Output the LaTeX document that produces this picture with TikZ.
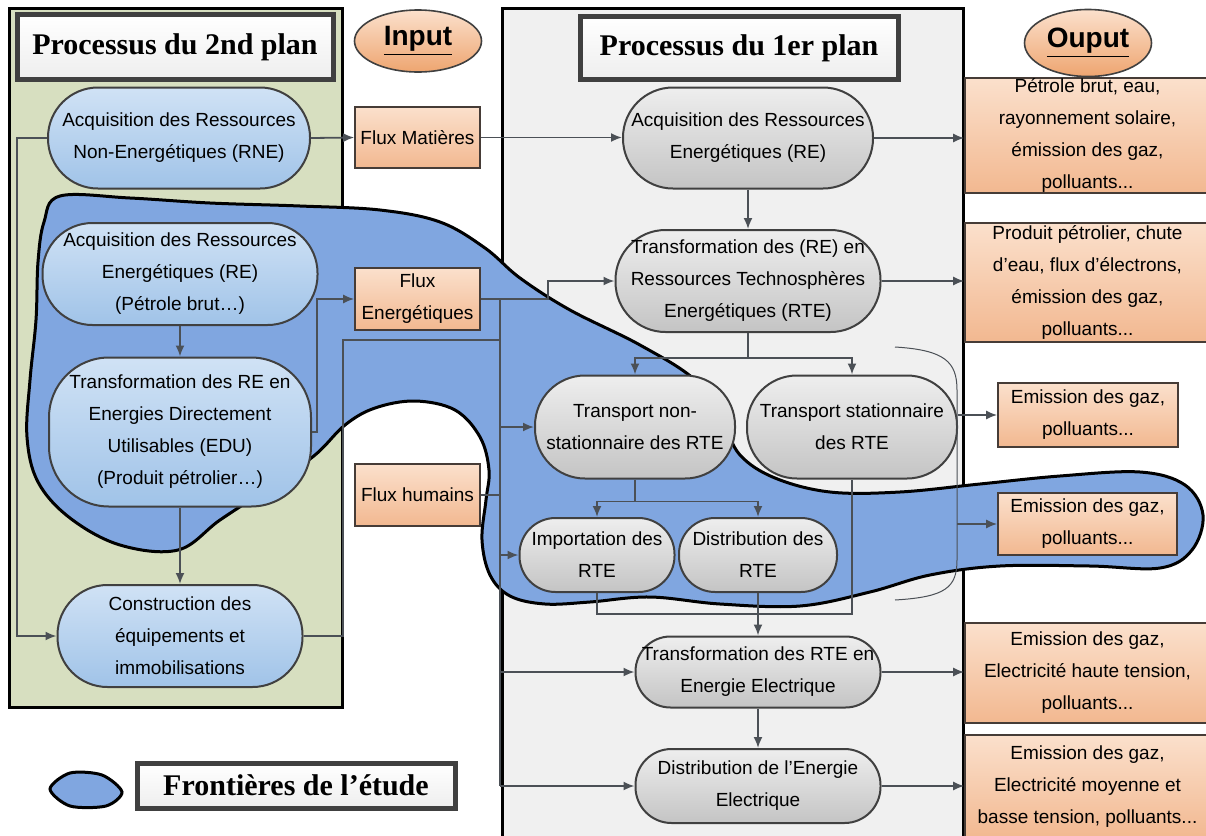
\documentclass[tikz,border=0pt]{standalone}
\usepackage{fontspec}
\setmainfont{Liberation Sans}
\newfontfamily\titlefont{Liberation Serif}
\usepackage{tikz}
\usetikzlibrary{shapes,arrows,arrows.meta}
\usepackage{color}
\definecolor{vert}{RGB}{215,223,192}
\definecolor{gris}{RGB}{240,240,240}
\definecolor{frontiere}{RGB}{128,166,224}
\definecolor{bleuh}{RGB}{208,226,245}
\definecolor{bleub}{RGB}{160,195,232}
\definecolor{grish}{RGB}{238,238,238}
\definecolor{grisb}{RGB}{196,196,196}
\definecolor{orangeh}{RGB}{251,224,204}
\definecolor{orangeb}{RGB}{242,184,144}
\definecolor{orangef}{RGB}{238,165,112}
\definecolor{brun}{RGB}{70,60,55}
\definecolor{trait}{RGB}{75,80,86}
\definecolor{bord}{RGB}{64,64,64}

\begin{document}
\begin{tikzpicture}[x=0.5pt, y=-0.5pt]
    % Define styles
    \tikzstyle{second} = [rectangle, rounded corners=25pt, draw=bord, line width=1pt, top color=bleuh, bottom color=bleub, align=center, inner sep=0pt, font=\fontsize{9.5}{16}\selectfont]
    \tikzstyle{first} = [second, top color=grish, bottom color=grisb]
    \tikzstyle{flux} = [rectangle, draw=brun, line width=0.8pt, top color=orangeh, bottom color=orangeb, align=center, inner sep=0pt, font=\fontsize{9.5}{16}\selectfont]
    \tikzstyle{titre} = [rectangle, draw=bord, line width=2.5pt, top color=white, bottom color=grish, font=\titlefont\bfseries\fontsize{15}{18}\selectfont]
    \tikzstyle{io} = [ellipse, draw=bord, line width=0.8pt, top color=orangeh, bottom color=orangef, inner sep=0pt, font=\bfseries\fontsize{14}{16}\selectfont]
    \tikzstyle{frontier} = [draw=black, line width=1.5pt, fill=frontiere]
    \tikzstyle{conn} = [draw=trait, line width=0.9pt]
    \tikzstyle{line} = [conn, -{Latex[length=5.5pt, width=4.5pt]}]

    \useasboundingbox (0,0) rectangle (1206,836);

    % Panels
    \draw [fill=vert, line width=1.5pt] (9,8) rectangle (342,707);
    \draw [fill=gris, line width=1.5pt] (502,8) rectangle (963,845);

    % Study boundary
    \draw [frontier] plot [smooth cycle, tension=0.6] coordinates {
        (60,196) (130,198) (210,203) (300,206) (380,210) (440,222) (485,248)
        (520,278) (570,310) (640,345) (695,380) (722,420) (740,455) (775,478)
        (830,492) (900,492) (980,484) (1060,476) (1140,472) (1185,485) (1203,515)
        (1192,550) (1160,568) (1090,566) (1000,566) (930,575) (870,592) (800,606)
        (720,604) (650,597) (590,602) (545,604) (510,596) (490,575) (482,540)
        (486,500) (489,470) (480,437) (455,410) (415,401) (375,408) (345,425)
        (315,455) (270,487) (220,520) (178,550) (120,545) (70,518) (38,482)
        (27,437) (30,380) (36,320) (38,262) (44,222)};

    % Titles
    \node [titre, minimum width=158pt, minimum height=32.5pt] (plan2) at (175,47) {Processus du 2nd plan};
    \node [titre, minimum width=159pt, minimum height=31.5pt] (plan1) at (739,48) {Processus du 1er plan};
    \node [io, minimum width=63.5pt, minimum height=31pt] (input) at (418,41) {\underline{Input}};
    \node [io, minimum width=63.5pt, minimum height=33.5pt] (output) at (1088,43) {\underline{Ouput}};

    % Second plan
    \node [second, minimum width=131pt, minimum height=50.5pt] (rne) at (179,138) {Acquisition des Ressources\\Non-Energétiques (RNE)};
    \node [second, minimum width=137.5pt, minimum height=51pt] (reL) at (180,274) {Acquisition des Ressources\\Energétiques (RE)\\(Pétrole brut…)};
    \node [second, rounded corners=30pt, minimum width=131pt, minimum height=74.5pt] (edu) at (180,432) {Transformation des RE en\\Energies Directement\\Utilisables (EDU)\\(Produit pétrolier…)};
    \node [second, minimum width=122.5pt, minimum height=51pt] (con) at (180,636) {Construction des\\équipements et\\immobilisations};

    % Input
    \node [flux, minimum width=62.5pt, minimum height=30.5pt] (fm) at (417.5,137.5) {Flux Matières};
    \node [flux, minimum width=62.5pt, minimum height=31pt] (fe) at (417.5,299) {Flux\\Energétiques};
    \node [flux, minimum width=62.5pt, minimum height=31pt] (fh) at (417.5,495) {Flux humains};

    % First plan
    \node [first, minimum width=125pt, minimum height=50.5pt] (reR) at (748,138) {Acquisition des Ressources\\Energétiques (RE)};
    \node [first, minimum width=132.5pt, minimum height=51pt] (rte) at (748,281) {Transformation des (RE) en\\Ressources Technosphères\\Energétiques (RTE)};
    \node [first, minimum width=100pt, minimum height=51.5pt] (tnon) at (635,427) {Transport non-\\stationnaire des RTE};
    \node [first, minimum width=105pt, minimum height=51.5pt] (tstat) at (852,427) {Transport stationnaire\\des RTE};
    \node [first, rounded corners=18pt, minimum width=77.5pt, minimum height=37pt] (imp) at (597,555) {Importation des\\RTE};
    \node [first, rounded corners=18pt, minimum width=79pt, minimum height=37pt] (drte) at (758,555) {Distribution des\\RTE};
    \node [first, rounded corners=17.5pt, minimum width=122.5pt, minimum height=35.5pt] (tee) at (758,672) {Transformation des RTE en\\Energie Electrique};
    \node [first, rounded corners=18pt, minimum width=122.5pt, minimum height=37pt] (dee) at (758,786) {Distribution de l'Energie\\Electrique};

    % Output
    \node [flux, minimum width=122.5pt, minimum height=57.5pt] (out1) at (1087.5,135.5) {Pétrole brut, eau,\\rayonnement solaire,\\émission des gaz,\\polluants...};
    \node [flux, minimum width=122.5pt, minimum height=59.5pt] (out2) at (1087.5,282.5) {Produit pétrolier, chute\\d'eau, flux d'électrons,\\émission des gaz,\\polluants...};
    \node [flux, minimum width=90pt, minimum height=32pt] (out3) at (1088,415) {Emission des gaz,\\polluants...};
    \node [flux, minimum width=89.5pt, minimum height=31pt] (out4) at (1087.5,524) {Emission des gaz,\\polluants...};
    \node [flux, minimum width=122.5pt, minimum height=50pt] (out5) at (1087.5,673) {Emission des gaz,\\Electricité haute tension,\\polluants...};
    \node [flux, minimum width=122.5pt, minimum height=52pt] (out6) at (1087.5,787) {Emission des gaz,\\Electricité moyenne et\\basse tension, polluants...};

    % Legend
    \draw [frontier] plot [smooth cycle] coordinates {(50,789) (70,773) (102,775) (122,792) (106,806) (70,806)};
    \node [titre, minimum width=159pt, minimum height=22.5pt] (legende) at (296,785.5) {Frontières de l’étude};

    % Junction points
    \coordinate (fork) at (548,299);
    \coordinate (bus) at (500,299);
    \coordinate (cjoin) at (343,340);
    \coordinate (merge) at (852,614);
    \coordinate (brace) at (957,524);

    % Second plan connectors
    \path [line] (rne.east) -- (fm.west);
    \path [line] (rne.west) -- ++(-30,0) |- (con.west);
    \path [line] (reL.south) -- (edu.north);
    \path [line] (edu.south) -- (con.north);
    \path [line] (edu.east) -- ++(5,0) |- (fe.west);
    \path [conn] (con.east) -| (cjoin) -- (bus |- cjoin);

    % Input connectors
    \path [line] (fm.east) -- (fm.east -| reR.west);
    \path [line] (fe.east) -- (fork) |- (rte.west);
    \path [conn] (fh.east) -- (bus |- fh.east);
    \path [conn] (bus) -- (bus |- dee.west);
    \path [line] (bus |- tnon.west) -- (tnon.west);
    \path [line] (bus |- imp.west) -- (imp.west);
    \path [line] (bus |- tee.west) -- (tee.west);
    \path [line] (bus |- dee.west) -- (dee.west);

    % First plan connectors
    \path [line] (reR.south) -- (rte.north);
    \path [line] (rte.south) -- ++(0,25) -| (tnon.north);
    \path [line] (rte.south) ++(0,25) -| (tstat.north);
    \path [line] (tnon.south) -- ++(0,22) -| (imp.north);
    \path [line] (tnon.south) ++(0,22) -| (drte.north);
    \path [conn] (imp.south) |- (merge) -- (tstat.south);
    \path [line] (drte.south) -- (tee.north);
    \path [line] (tee.south) -- (dee.north);

    % Output connectors
    \path [line] (reR.east) -- (reR.east -| out1.west);
    \path [line] (rte.east) -- (rte.east -| out2.west);
    \path [line] (tstat.east |- out3.west) -- (out3.west);
    \path [line] (tee.east) -- (tee.east -| out5.west);
    \path [line] (dee.east) -- (dee.east -| out6.west);
    \draw [draw=trait, line width=0.5pt] (895,347) .. controls (945,350) and (957,362) .. (957,390) -- (957,560) .. controls (957,588) and (945,597) .. (895,600);
    \path [line] (brace) -- (out4.west);
\end{tikzpicture}
\end{document}
